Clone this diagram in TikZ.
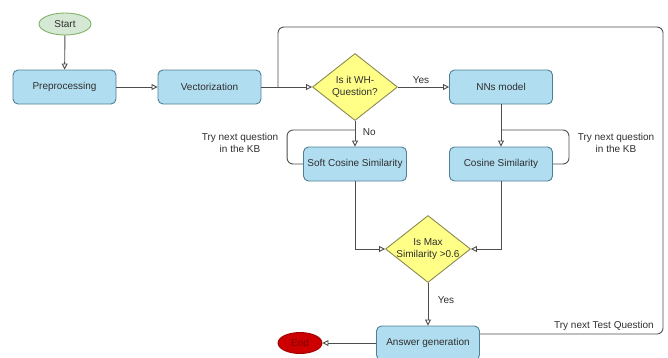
\documentclass[tikz,border=0pt]{standalone}
\usepackage{fontspec}
\setmainfont{Liberation Sans}
\usetikzlibrary{shapes.geometric,arrows.meta}
\definecolor{boxfill}{HTML}{B1DDF0}
\definecolor{boxline}{HTML}{4F7F95}
\definecolor{decfill}{HTML}{FFFF88}
\definecolor{decline}{HTML}{8A8A50}
\definecolor{startfill}{HTML}{D5E8D4}
\definecolor{startline}{HTML}{82B366}
\definecolor{endfill}{HTML}{CC0000}
\definecolor{endline}{HTML}{A00000}
\definecolor{flowline}{HTML}{4D4D4D}
\definecolor{txt}{HTML}{2E2E2E}
\begin{document}
\begin{tikzpicture}[x=1pt,y=-1pt,
  every node/.style={font=\fontsize{10}{12}\selectfont, text=txt},
  proc/.style={rectangle, rounded corners=5pt, draw=boxline, fill=boxfill, line width=0.9pt, minimum width=103pt, minimum height=34pt, inner sep=1pt},
  decide/.style={diamond, draw=decline, fill=decfill, line width=0.9pt, minimum width=85pt, minimum height=67pt, inner sep=0pt},
  term/.style={ellipse, line width=0.9pt, inner sep=0pt},
  link/.style={draw=flowline, line width=0.9pt},
  flow/.style={link, -{Triangle[open, length=6pt, width=6pt]}},
  note/.style={align=center, inner sep=1pt}]
\useasboundingbox (0,0) rectangle (668,357);
% Draw terminals
\node[term, draw=startline, fill=startfill, minimum width=52pt, minimum height=22pt] (start) at (65,24) {Start};
\node[term, draw=endline, fill=endfill, minimum width=44pt, minimum height=21pt, text=endline!80!black] (end) at (300,343) {End};

% Draw process boxes
\node[proc] (pre) at (64.5,87) {Preprocessing};
\node[proc] (vec) at (209.5,87) {Vectorization};
\node[proc] (nn) at (501,87) {NNs model};
\node[proc] (soft) at (355,164) {Soft Cosine Similarity};
\node[proc] (cos) at (501,164) {Cosine Similarity};
\node[proc] (ans) at (428,343) {Answer generation};

% Draw decisions
\node[decide, label={[align=center, text=txt]center:Is it WH-\\Question?}] (q1) at (355,87) {};
\node[decide, label={[align=center, text=txt]center:Is Max\\Similarity >0.6}] (q2) at (428,249) {};

% Join points of the loops
\coordinate (join) at (278,87);
\coordinate (softj) at (355,130);
\coordinate (cosj) at (501,130);

% Draw main flow
\draw[flow] (start) -- (pre);
\draw[flow] (pre) -- (vec);
\draw[flow] (vec) -- (q1);
\draw[flow] (q1) -- node[above, pos=0.45] {Yes} (nn);
\draw[flow] (q1) -- node[right, pos=0.45, xshift=4pt] {No} (soft);
\draw[flow] (nn) -- (cos);
\draw[flow] (soft.south) |- (q2.west);
\draw[flow] (cos.south) |- (q2.east);
\draw[flow] (q2) -- node[right, pos=0.4, xshift=6pt] {Yes} (ans);
\draw[flow] (ans) -- (end);

% Draw loops
\draw[link, rounded corners=6pt] (soft.west) -- ++(-16,0) |- (softj);
\draw[link, rounded corners=6pt] (cos.east) -- ++(16,0) |- (cosj);
\draw[link, rounded corners=6pt] ([yshift=9pt]ans.east) -- (663,334) -- (663,27) -- (278,27) -- (join);

% Draw loop labels
\node[note] (softnote) at (240,143) {Try next question\\in the KB};
\node[note] (cosnote) at (616,143) {Try next question\\in the KB};
\node[note, anchor=south east] (testnote) at (655,332) {Try next Test Question};
\end{tikzpicture}
\end{document}
